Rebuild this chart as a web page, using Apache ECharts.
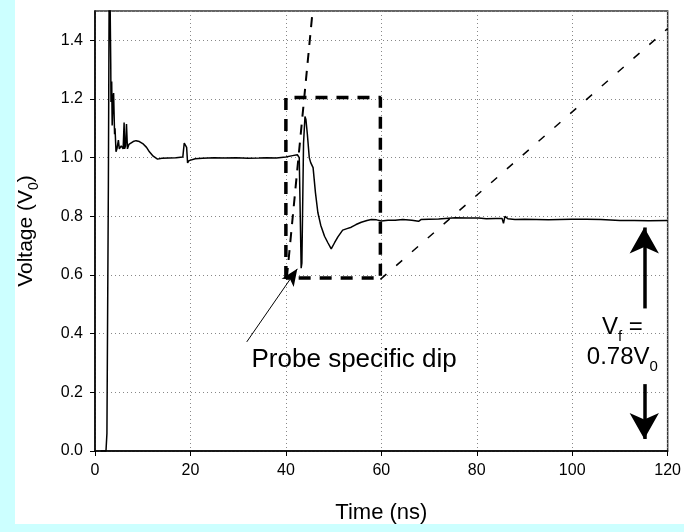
<!DOCTYPE html>
<html>
<head>
<meta charset="utf-8">
<script src="https://cdn.jsdelivr.net/npm/echarts@6/dist/echarts.min.js"></script>
<style>
  html, body { margin: 0; padding: 0; background: #ccffff; }
  #panel { position: absolute; left: 15px; top: 0; width: 669px; height: 524px; background: #fff; }
  #chart { position: absolute; left: 0; top: 0; width: 684px; height: 532px; }
</style>
</head>
<body>
<div id="panel"></div>
<div id="chart"></div>
<script>
// measured trace, time in ns, voltage in V0
const traceT = [1.2, 2.3, 2.5, 2.8, 3.0, 3.15, 3.3, 3.35, 3.5, 3.6, 3.8, 3.9, 4.1, 4.2, 4.4, 4.6, 4.9, 5.1, 5.3, 5.5,
  5.7, 5.9, 6.1, 6.2, 6.4, 6.6, 6.8, 7.1, 7.5, 8.0, 8.6, 9.3, 10.0, 10.8, 11.4, 12.2, 13.1, 14.0, 15.5, 17.0,
  18.4, 18.7, 18.9, 19.2, 19.4, 19.7, 20.1, 21.0, 22.5, 25, 27, 29.6, 32, 34.4, 36, 38, 40, 41.4, 42.4, 42.8,
  43.2, 43.35, 43.7, 44.0, 44.2, 44.5, 44.9, 45.2, 45.7, 46.2, 46.7, 47.3, 48.1, 48.8, 49.5, 50.2, 50.9, 51.9, 52.8, 53.7,
  54.7, 55.8, 57.0, 57.9, 59.0, 60.0, 61.4, 62.9, 64.5, 66.4, 67.8, 68.3, 70, 72, 75.5, 78, 80.4, 82, 84, 85.3,
  85.6, 85.9, 86.5, 88, 90, 95, 99.8, 103, 106, 110, 113, 116, 120];
const traceV = [0.0, 0.0, 0.06, 0.9, 1.7, 1.55, 1.32, 1.19, 1.26, 1.11, 1.21, 1.22, 1.08, 1.10, 1.02, 1.03, 1.06, 1.03, 1.025, 1.04,
  1.035, 1.03, 1.12, 1.03, 1.04, 1.115, 1.03, 1.045, 1.05, 1.055, 1.058, 1.055, 1.048, 1.035, 1.02, 1.005, 0.995, 0.998, 0.999, 1.0,
  1.002, 1.05, 1.052, 1.035, 0.982, 0.99, 0.993, 0.996, 0.998, 1.0, 0.999, 1.0, 0.998, 0.999, 1.0, 0.999, 1.002, 1.007, 1.01, 1.0,
  0.623, 0.64, 1.05, 1.14, 1.13, 1.08, 1.0, 0.983, 0.966, 0.88, 0.813, 0.77, 0.732, 0.71, 0.689, 0.71, 0.73, 0.753, 0.758, 0.763,
  0.772, 0.78, 0.786, 0.789, 0.788, 0.784, 0.787, 0.787, 0.789, 0.787, 0.783, 0.789, 0.79, 0.791, 0.795, 0.794, 0.794, 0.792, 0.793, 0.793,
  0.776, 0.80, 0.792, 0.789, 0.79, 0.788, 0.79, 0.79, 0.789, 0.786, 0.786, 0.785, 0.786];

// dashed guides
const boxT = [40, 40, 59.8, 59.8, 40];
const boxV = [0.59, 1.205, 1.205, 0.59, 0.59];
const steepT = [40.2, 45.6];
const steepV = [0.59, 1.5];
const slowT = [59.8, 120];
const slowV = [0.585, 1.44];

// annotation arrows [t, v] tail -> tip
const probeArrow = [[31.8, 0.372], [42.4, 0.621]];
const upArrow = [[115.1, 0.486], [115.1, 0.762]];
const downArrow = [[115.1, 0.228], [115.1, 0.041]];

const xTicks = { min: 0, max: 120, step: 20 };
const yTicks = { min: 0, max: 1.5, step: 0.2 };

const font = 'Liberation Sans, Arial, sans-serif';

const zip = (a, b) => a.map((t, i) => [t, b[i]]);

const chart = echarts.init(document.getElementById('chart'), null, { renderer: 'canvas' });

const richText = {
  m: { fontSize: 24, fontFamily: font, color: '#000', lineHeight: 34 },
  s: { fontSize: 15, fontFamily: font, color: '#000', verticalAlign: 'bottom', lineHeight: 15 }
};

const option = {
  animation: false,
  backgroundColor: 'transparent',
  textStyle: { fontFamily: font, color: '#000' },
  grid: { left: 95, right: 14, top: 11, bottom: 81, show: true, borderColor: '#333', borderWidth: 1.5, backgroundColor: 'transparent' },
  xAxis: {
    type: 'value',
    min: xTicks.min, max: xTicks.max, interval: xTicks.step,
    name: 'Time (ns)', nameLocation: 'middle', nameGap: 51,
    nameTextStyle: { fontSize: 22, fontFamily: font, color: '#000' },
    axisLine: { lineStyle: { color: '#000', width: 1.5 } },
    axisTick: { length: 5, lineStyle: { color: '#000' } },
    axisLabel: { fontSize: 16, color: '#000', margin: 12, fontFamily: font },
    splitLine: { show: true, lineStyle: { color: '#888', type: [1, 3], width: 1 } }
  },
  yAxis: {
    type: 'value',
    min: yTicks.min, max: yTicks.max, interval: yTicks.step,
    name: '{m|Voltage (V}{s|0}{m|)}', nameLocation: 'middle', nameGap: 54,
    nameTextStyle: {
      rich: {
        m: { fontSize: 21, fontFamily: font, color: '#000', lineHeight: 30 },
        s: { fontSize: 14, fontFamily: font, color: '#000', verticalAlign: 'bottom', lineHeight: 14 }
      }
    },
    axisLine: { lineStyle: { color: '#000', width: 1.5 } },
    axisTick: { length: 5, lineStyle: { color: '#000' } },
    axisLabel: { fontSize: 16, color: '#000', margin: 12, fontFamily: font, showMaxLabel: false,
      formatter: v => v.toFixed(1) },
    splitLine: { show: true, lineStyle: { color: '#888', type: [1, 3], width: 1 } }
  },
  series: [
    {
      name: 'trace', type: 'line', data: zip(traceT, traceV), showSymbol: false, symbol: 'none',
      lineStyle: { color: '#000', width: 1.5 }, z: 5
    },
    {
      name: 'box', type: 'line', data: zip(boxT, boxV), symbol: 'none',
      lineStyle: { color: '#000', width: 3.5, type: [12, 9] }, z: 4
    },
    {
      name: 'steep', type: 'line', data: zip(steepT, steepV), symbol: 'none',
      lineStyle: { color: '#000', width: 2, type: [10, 8] }, z: 4
    },
    {
      name: 'slow', type: 'line', data: zip(slowT, slowV), symbol: 'none',
      lineStyle: { color: '#000', width: 1.5, type: [8, 13] }, z: 4
    },
    {
      name: 'probeArrow', type: 'line', data: [],
      markLine: {
        silent: true, symbol: ['none', 'arrow'], symbolSize: [11, 17],
        label: { show: false },
        lineStyle: { color: '#000', width: 1, type: 'solid' },
        data: [[{ coord: probeArrow[0] }, { coord: probeArrow[1] }]]
      }
    },
    {
      name: 'vfArrows', type: 'line', data: [],
      markLine: {
        silent: true, symbol: ['none', 'arrow'], symbolSize: [22, 26],
        label: { show: false },
        lineStyle: { color: '#000', width: 3.5, type: 'solid' },
        data: [
          [{ coord: upArrow[0] }, { coord: upArrow[1] }],
          [{ coord: downArrow[0] }, { coord: downArrow[1] }]
        ]
      }
    },
    {
      name: 'notes', type: 'scatter', symbolSize: 0, silent: true,
      itemStyle: { color: '#000', opacity: 1 },
      data: [
        { value: [32.8, 0.31], label: { show: true, position: 'right', distance: 0, color: '#000', formatter: 'Probe specific dip', fontSize: 26 } },
        { value: [110.5, 0.42], label: { show: true, position: 'inside', color: '#000', formatter: '{m|V}{s|f}{m| =}', rich: richText } },
        { value: [110.5, 0.32], label: { show: true, position: 'inside', color: '#000', formatter: '{m|0.78V}{s|0}', rich: richText } }
      ],
      label: { color: '#000', fontFamily: font, textBorderWidth: 0, opacity: 1, rich: richText }
    }
  ]
};

chart.setOption(option);
</script>
</body>
</html>
